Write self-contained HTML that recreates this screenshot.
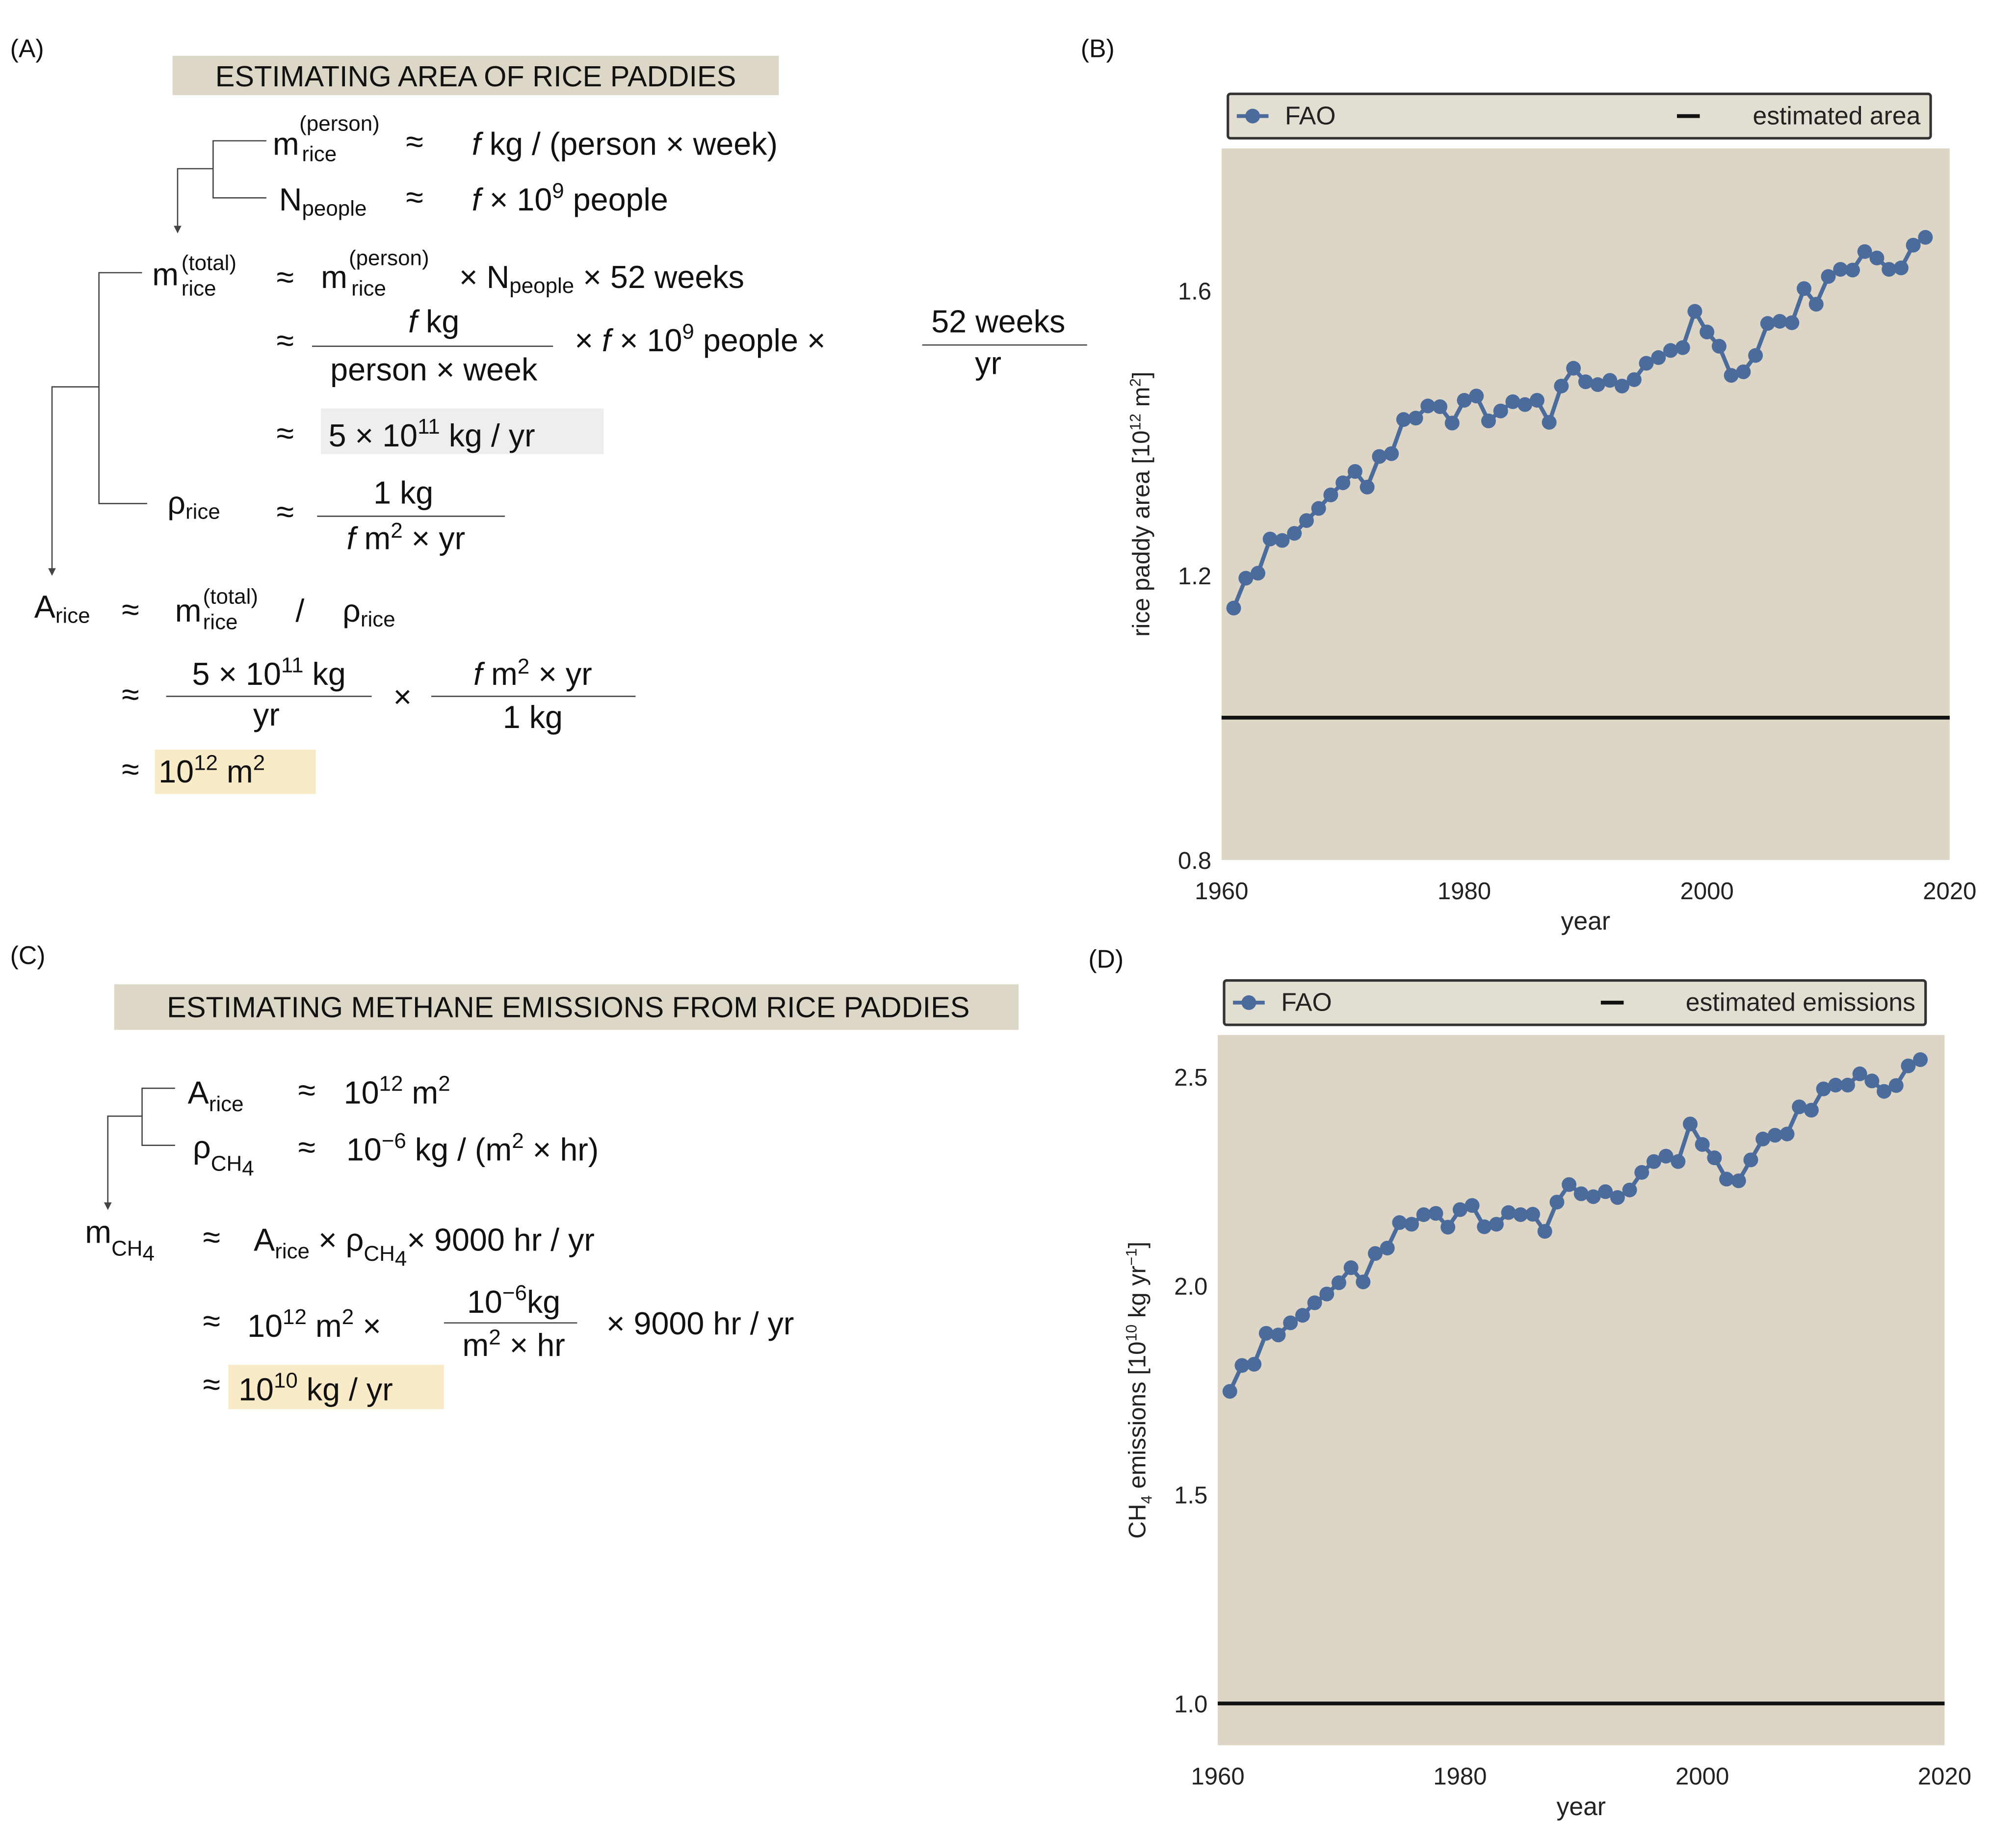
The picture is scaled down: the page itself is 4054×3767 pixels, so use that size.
<!DOCTYPE html>
<html><head><meta charset="utf-8"><style>
html,body{margin:0;padding:0;background:#fff}
svg{display:block}
text{font-family:"Liberation Sans",sans-serif;fill:#111}
.m{font-size:25px}.s{font-size:17px}.t{font-size:19px;fill:#222}
</style></head><body>
<svg id="fig" width="4054" height="3767" viewBox="0 0 1568 1457" xmlns="http://www.w3.org/2000/svg">
<g>
<text x="8" y="45" font-size="20">(A)</text>
<rect x="136" y="44" width="478" height="31" fill="#ddd7c7"/>
<text x="375" y="68" font-size="23" text-anchor="middle">ESTIMATING AREA OF RICE PADDIES</text>
<g stroke="#444" stroke-width="1" fill="none">
<path d="M210 111H168V156H210M168 133H140V180"/>
<path d="M112 215H78V397H116M78 305H41V450"/>
</g>
<path d="M137 178L140 184L143 178Z M38 448L41 454L44 448Z" fill="#444"/>
<g class="m">
<text x="215" y="122">m</text><text x="236" y="103" class="s">(person)</text><text x="238" y="127" class="s">rice</text>
<text x="320" y="120">≈</text><text x="372" y="122"><tspan font-style="italic">f</tspan> kg / (person × week)</text>
<text x="220" y="166">N<tspan class="s" dy="4">people</tspan></text><text x="320" y="164">≈</text>
<text x="372" y="166"><tspan font-style="italic">f</tspan> × 10<tspan class="s" dy="-10">9</tspan><tspan dy="10"> people</tspan></text>
<text x="120" y="225">m</text><text x="143" y="213" class="s">(total)</text><text x="143" y="233" class="s">rice</text>
<text x="218" y="227">≈</text><text x="253" y="227">m</text><text x="275" y="209" class="s">(person)</text><text x="277" y="233" class="s">rice</text>
<text x="362" y="227">× N<tspan class="s" dy="4">people</tspan><tspan dy="-4"> × 52 weeks</tspan></text>
<text x="218" y="277">≈</text>
<text x="342" y="262" text-anchor="middle"><tspan font-style="italic">f</tspan> kg</text>
<line x1="246" y1="273" x2="436" y2="273" stroke="#444"/>
<text x="342" y="300" text-anchor="middle">person × week</text>
<text x="453" y="277">× <tspan font-style="italic">f</tspan> × 10<tspan class="s" dy="-10">9</tspan><tspan dy="10"> people ×</tspan></text>
<text x="787" y="262" text-anchor="middle">52 weeks</text>
<line x1="727" y1="272" x2="857" y2="272" stroke="#444"/>
<text x="779" y="295" text-anchor="middle">yr</text>
<text x="218" y="350">≈</text>
<rect x="253" y="322" width="223" height="36" fill="#eeeeee"/>
<text x="259" y="352">5 × 10<tspan class="s" dy="-10">11</tspan><tspan dy="10"> kg / yr</tspan></text>
<text x="132" y="405">ρ<tspan class="s" dy="4">rice</tspan></text><text x="218" y="412">≈</text>
<text x="318" y="397" text-anchor="middle">1 kg</text>
<line x1="250" y1="407" x2="398" y2="407" stroke="#444"/>
<text x="320" y="433" text-anchor="middle"><tspan font-style="italic">f</tspan> m<tspan class="s" dy="-9">2</tspan><tspan dy="9"> × yr</tspan></text>
<text x="27" y="487">A<tspan class="s" dy="4">rice</tspan></text><text x="96" y="489">≈</text>
<text x="138" y="490">m</text><text x="160" y="476" class="s">(total)</text><text x="160" y="496" class="s">rice</text>
<text x="233" y="490">/</text><text x="270" y="490">ρ<tspan class="s" dy="4">rice</tspan></text>
<text x="96" y="556">≈</text>
<text x="212" y="540" text-anchor="middle">5 × 10<tspan class="s" dy="-10">11</tspan><tspan dy="10"> kg</tspan></text>
<line x1="131" y1="549" x2="293" y2="549" stroke="#444"/>
<text x="210" y="572" text-anchor="middle">yr</text>
<text x="310" y="558">×</text>
<text x="420" y="540" text-anchor="middle"><tspan font-style="italic">f</tspan> m<tspan class="s" dy="-9">2</tspan><tspan dy="9"> × yr</tspan></text>
<line x1="340" y1="549" x2="501" y2="549" stroke="#444"/>
<text x="420" y="574" text-anchor="middle">1 kg</text>
<text x="96" y="615">≈</text>
<rect x="122" y="591" width="127" height="35" fill="#f9ebc8"/>
<text x="125" y="617">10<tspan class="s" dy="-10">12</tspan><tspan dy="10"> m</tspan><tspan class="s" dy="-10">2</tspan></text>
</g></g>

<g>
<text x="8" y="760" font-size="20">(C)</text>
<rect x="90" y="776" width="713" height="36" fill="#ddd7c7"/>
<text x="448" y="802" font-size="23" text-anchor="middle">ESTIMATING METHANE EMISSIONS FROM RICE PADDIES</text>
<path d="M138 858H112V903H138M112 880H85V950" stroke="#444" fill="none"/>
<path d="M82 948L85 954L88 948Z" fill="#444"/>
<g class="m">
<text x="148" y="870">A<tspan class="s" dy="6">rice</tspan></text><text x="235" y="868">≈</text>
<text x="271" y="870">10<tspan class="s" dy="-10">12</tspan><tspan dy="10"> m</tspan><tspan class="s" dy="-10">2</tspan></text>
<text x="152" y="913">ρ<tspan class="s" dy="10">CH</tspan><tspan class="s" dy="4">4</tspan></text><text x="235" y="913">≈</text>
<text x="273" y="915">10<tspan class="s" dy="-10">−6</tspan><tspan dy="10"> kg / (m</tspan><tspan class="s" dy="-10">2</tspan><tspan dy="10"> × hr)</tspan></text>
<text x="67" y="980">m<tspan class="s" dy="10">CH</tspan><tspan class="s" dy="4">4</tspan></text><text x="160" y="984">≈</text>
<text x="200" y="986">A<tspan class="s" dy="6">rice</tspan><tspan dy="-6"> × ρ</tspan><tspan class="s" dy="8">CH</tspan><tspan class="s" dy="4">4</tspan><tspan dy="-12">× 9000 hr / yr</tspan></text>
<text x="160" y="1050">≈</text>
<text x="195" y="1054">10<tspan class="s" dy="-10">12</tspan><tspan dy="10"> m</tspan><tspan class="s" dy="-10">2</tspan><tspan dy="10"> ×</tspan></text>
<text x="405" y="1035" text-anchor="middle">10<tspan class="s" dy="-10">−6</tspan><tspan dy="10">kg</tspan></text>
<line x1="350" y1="1043" x2="455" y2="1043" stroke="#444"/>
<text x="405" y="1069" text-anchor="middle">m<tspan class="s" dy="-9">2</tspan><tspan dy="9"> × hr</tspan></text>
<text x="478" y="1052">× 9000 hr / yr</text>
<text x="160" y="1100">≈</text>
<rect x="180" y="1076" width="170" height="35" fill="#f9ebc8"/>
<text x="188" y="1104">10<tspan class="s" dy="-10">10</tspan><tspan dy="10"> kg / yr</tspan></text>
</g></g>
<text x="852" y="45" font-size="20">(B)</text>
<text x="858" y="763" font-size="20">(D)</text>
<g id="chartB"></g>
<g id="chartD"></g>
</svg>
<script>
const years = Array.from({length:58},(_,i)=>1961+i);
const areaFAO = [1.154,1.196,1.203,1.251,1.249,1.259,1.277,1.294,1.313,1.330,1.346,1.324,1.367,1.371,1.419,1.421,1.438,1.437,1.414,1.446,1.452,1.417,1.431,1.444,1.440,1.446,1.415,1.466,1.491,1.472,1.468,1.474,1.466,1.475,1.498,1.506,1.516,1.520,1.571,1.542,1.522,1.481,1.486,1.509,1.554,1.557,1.555,1.603,1.581,1.620,1.630,1.629,1.655,1.646,1.630,1.632,1.664,1.675];
const areaEstimate = 1.0;
const areaTicks = [0.8,1.2,1.6];
const ch4FAO = [1.747,1.809,1.812,1.886,1.882,1.911,1.929,1.959,1.980,2.007,2.043,2.009,2.077,2.090,2.151,2.147,2.170,2.173,2.140,2.182,2.192,2.141,2.147,2.175,2.170,2.171,2.130,2.200,2.242,2.220,2.213,2.225,2.211,2.229,2.271,2.297,2.310,2.297,2.387,2.338,2.306,2.255,2.251,2.301,2.351,2.360,2.363,2.428,2.420,2.471,2.480,2.480,2.507,2.490,2.465,2.479,2.526,2.541];
const ch4Estimate = 1.0;
const ch4Ticks = [1.0,1.5,2.0,2.5];
const xTicks = [1960,1980,2000,2020];
const NS='http://www.w3.org/2000/svg';
function mk(p,tag,at,txt){const e=document.createElementNS(NS,tag);for(const k in at)e.setAttribute(k,at[k]);if(txt!==undefined)e.textContent=txt;p.appendChild(e);return e;}
function chart(g,c){
  const X=v=>c.x0+(v-1960)/60*(c.x1-c.x0);
  const Y=v=>c.y1-(v-c.ymin)/(c.ymax-c.ymin)*(c.y1-c.y0);
  let r=mk(g,'rect',{x:c.x0,y:c.y0,width:c.x1-c.x0,height:c.y1-c.y0,fill:'#ddd6c6'});
  
  
  c.yt.forEach(v=>{let t=mk(g,'text',{x:c.x0-8,y:Y(v)+7,'text-anchor':'end',class:'t'},v.toFixed(1));
    
    });
  xTicks.forEach(v=>{let t=mk(g,'text',{x:X(v),y:c.y1+31,'text-anchor':'middle',class:'t'},String(v));
    
    });
  let xl=mk(g,'text',{x:(c.x0+c.x1)/2,y:c.y1+55,'text-anchor':'middle',class:'t',style:'font-size:20px'},'year');
  
  
  let yl=mk(g,'text',{transform:`translate(${c.x0-57},${(c.y0+c.y1)/2}) rotate(-90)`,'text-anchor':'middle',class:'t',style:'font-size:19px'});
  yl.innerHTML=c.ylab;
  
  
  let el=mk(g,'line',{x1:c.x0,x2:c.x1,y1:Y(c.est),y2:Y(c.est),stroke:'#111','stroke-width':3});
  
  
  let pl=mk(g,'polyline',{points:c.vals.map((v,i)=>X(years[i])+','+Y(v)).join(' '),fill:'none',stroke:'#4a6b9b','stroke-width':3.2});
  
  
  c.vals.forEach((v,i)=>{let p=mk(g,'circle',{cx:X(years[i]),cy:Y(v),r:5.8,fill:'#4a6b9b'});
    
    });
  const lg=mk(g,'g',{});
  
  
  mk(lg,'rect',{x:c.lx0,y:c.ly,width:c.lx1-c.lx0,height:35,rx:2,fill:'#e2ded1',stroke:'#333','stroke-width':2});
  mk(lg,'line',{x1:c.lx0+7,x2:c.lx0+32,y1:c.ly+17.5,y2:c.ly+17.5,stroke:'#4a6b9b','stroke-width':3});
  mk(lg,'circle',{cx:c.lx0+19.5,cy:c.ly+17.5,r:5.8,fill:'#4a6b9b'});
  mk(lg,'text',{x:c.lx0+45,y:c.ly+24,class:'t',style:'font-size:20px'},'FAO');
  mk(lg,'text',{x:c.lx1-8,y:c.ly+24,'text-anchor':'end',class:'t',style:'font-size:20px'},c.estLab);
  mk(lg,'line',{x1:c.lline,x2:c.lline+18,y1:c.ly+17.5,y2:c.ly+17.5,stroke:'#111','stroke-width':3});
}
chart(document.getElementById('chartB'),{x0:963,x1:1537,y0:117,y1:678,ymin:0.8,ymax:1.8,yt:areaTicks,vals:areaFAO,est:areaEstimate,
  ylab:'rice paddy area [10<tspan dy="-7" font-size="12">12</tspan><tspan dy="7"> m</tspan><tspan dy="-7" font-size="12">2</tspan><tspan dy="7">]</tspan>',
  lx0:968,lx1:1522,ly:74,estLab:'estimated area',lline:1322});
chart(document.getElementById('chartD'),{x0:960,x1:1533,y0:816,y1:1376,ymin:0.9,ymax:2.6,yt:ch4Ticks,vals:ch4FAO,est:ch4Estimate,
  ylab:'CH<tspan dy="5" font-size="12">4</tspan><tspan dy="-5"> emissions [10</tspan><tspan dy="-7" font-size="12">10</tspan><tspan dy="7"> kg yr</tspan><tspan dy="-7" font-size="12">−1</tspan><tspan dy="7">]</tspan>',
  lx0:965,lx1:1518,ly:773,estLab:'estimated emissions',lline:1262});
</script>
</body></html>
